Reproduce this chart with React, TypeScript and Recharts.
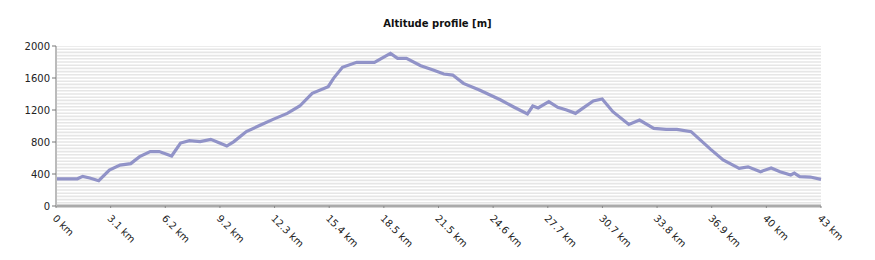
import { LineChart, Line, XAxis, YAxis, ReferenceLine } from 'recharts';

const distanceKm = [
  0, 1.2, 1.5, 1.9, 2.4, 3.0, 3.6, 4.2, 4.7, 5.3, 5.8, 6.5, 7.0, 7.5, 8.1, 8.7, 9.2, 9.6, 10.0,
  10.7, 11.5, 12.2, 13.0, 13.7, 14.4, 15.3, 15.6, 16.1, 16.9, 17.9, 18.8, 19.2, 19.7, 20.5, 21.2,
  21.8, 22.3, 22.9, 23.8, 25.0, 25.7, 26.5, 26.8, 27.1, 27.7, 28.2, 28.7, 29.2, 29.6, 30.2, 30.7,
  31.3, 32.2, 32.8, 33.6, 34.3, 34.9, 35.7, 36.8, 37.5, 38.4, 38.9, 39.6, 40.2, 40.7, 41.3, 41.5,
  41.8, 42.4, 43.0,
];

const altitudeM = [
  340, 340, 370, 350, 316, 450, 512, 530, 617, 680, 680, 625, 787, 816, 805, 833, 787, 750, 805,
  930, 1012, 1083, 1158, 1250, 1408, 1491, 1596, 1733, 1796, 1796, 1908, 1846, 1846, 1754, 1700,
  1650, 1637, 1533, 1450, 1325, 1241, 1150, 1250, 1225, 1304, 1233, 1200, 1158, 1220, 1312, 1337,
  1179, 1020, 1075, 970, 958, 958, 929, 708, 575, 471, 490, 429, 475, 429, 387, 410,
  367, 362, 333,
];

const xTickLabels = [
  '0 km', '3.1 km', '6.2 km', '9.2 km', '12.3 km', '15.4 km', '18.5 km', '21.5 km',
  '24.6 km', '27.7 km', '30.7 km', '33.8 km', '36.9 km', '40 km', '43 km',
];

const yTicks = [0, 400, 800, 1200, 1600, 2000];

// background stripes every 40 m
const stripeValues = Array.from({ length: 50 }, (_, i) => (i + 1) * 40);

const totalKm = 43;
const xTickPositions = xTickLabels.map((_, i) => (i * totalKm) / (xTickLabels.length - 1));

const data = distanceKm.map((d, i) => ({ km: d, alt: altitudeM[i] }));

const font = '"DejaVu Sans", Verdana, sans-serif';

function RotatedTick(props: any) {
  const { x, y, index } = props;
  return (
    <text
      x={x - 4}
      y={y + 9}
      transform={`rotate(45, ${x - 4}, ${y + 9})`}
      textAnchor="start"
      fontSize={10}
      fontFamily={font}
      fill="#222"
    >
      {xTickLabels[index]}
    </text>
  );
}

export default function App() {
  return (
    <div style={{ position: 'absolute', left: 0, top: 0, width: 875, height: 260, background: '#fff' }}>
      <div
        style={{
          position: 'absolute',
          top: 18,
          left: 0,
          width: 875,
          textAlign: 'center',
          fontFamily: font,
          fontWeight: 'bold',
          fontSize: 10,
          color: '#111',
        }}
      >
        Altitude profile [m]
      </div>
      <LineChart width={875} height={260} data={data} margin={{ top: 46, right: 54, left: 0, bottom: 0 }}>
        {stripeValues.map((v) => (
          <ReferenceLine key={v} y={v} stroke="#e6e6e6" strokeWidth={1.6} ifOverflow="hidden" />
        ))}
        <XAxis
          dataKey="km"
          type="number"
          domain={[0, totalKm]}
          ticks={xTickPositions}
          interval={0}
          height={54}
          tick={<RotatedTick />}
          tickLine={{ stroke: '#888' }}
          tickSize={2}
          axisLine={{ stroke: '#aaa', strokeWidth: 3 }}
        />
        <YAxis
          type="number"
          domain={[0, 2000]}
          ticks={yTicks}
          width={56}
          tick={{ fontSize: 10, fontFamily: font, fill: '#222' }}
          tickLine={{ stroke: '#777' }}
          tickSize={4}
          axisLine={{ stroke: '#bbb', strokeWidth: 2 }}
        />
        <Line
          type="linear"
          dataKey="alt"
          stroke="#9193c8"
          strokeWidth={3.2}
          dot={false}
          isAnimationActive={false}
        />
      </LineChart>
    </div>
  );
}
